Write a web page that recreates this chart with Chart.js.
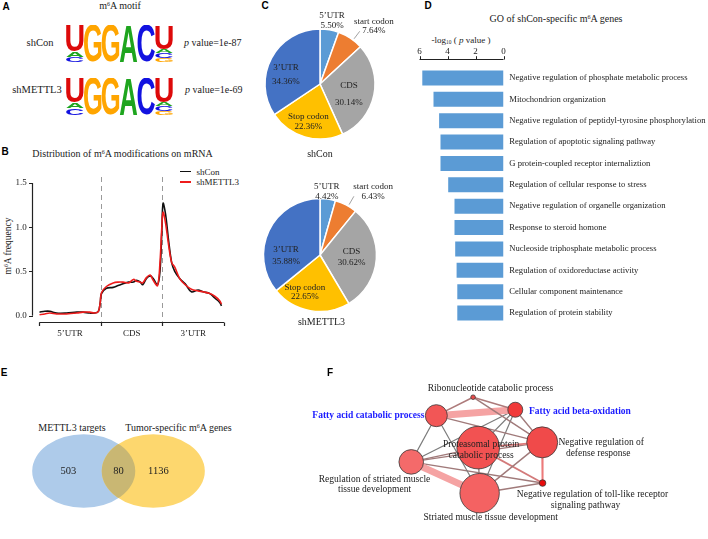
<!DOCTYPE html>
<html>
<head>
<meta charset="utf-8">
<script src="https://cdn.jsdelivr.net/npm/chart.js@4.4.0/dist/chart.umd.min.js"></script>
<style>
html, body { margin: 0; padding: 0; background: #fff; overflow: hidden; }
#fig { position: relative; width: 708px; height: 539px; font-family: "Liberation Serif", "Times New Roman", serif; color: #222; }
#fig canvas { position: absolute; }
.t { position: absolute; white-space: nowrap; transform: translate(-50%, -50%); line-height: 1; }
.l { transform: translate(0, -50%); }
.tag { font-family: "Liberation Sans", Arial, sans-serif; font-weight: bold; font-size: 10px; color: #000; }
sup, sub { font-size: 0.6em; line-height: 0; }
sup { vertical-align: 0.5em; }
sub { vertical-align: -0.2em; }
.key { position: absolute; width: 11px; height: 1.6px; }
</style>
</head>
<body>
<div id="fig">
  <!-- panel A -->
  <div class="t tag" style="left:6px;top:6.5px">A</div>
  <div class="t" style="left:120px;top:6px;font-size:10px">m<sup>6</sup>A motif</div>
  <div class="t" style="left:40px;top:43px;font-size:10.5px">shCon</div>
  <div class="t" style="left:37px;top:90px;font-size:10.5px">shMETTL3</div>
  <div class="t l" style="left:184px;top:43px;font-size:10px"><i>p</i> value=1e-87</div>
  <div class="t l" style="left:185px;top:90px;font-size:10px"><i>p</i> value=1e-69</div>
  <canvas id="logoCon" width="107" height="37" style="left:66px;top:24.5px"></canvas>
  <canvas id="logoKd" width="107" height="37.5" style="left:66px;top:78px"></canvas>

  <!-- panel B -->
  <div class="t tag" style="left:5px;top:152px">B</div>
  <div class="t" style="left:122.5px;top:153.5px;font-size:10px">Distribution of m<sup>6</sup>A modifications on mRNA</div>
  <div class="t" style="left:9px;top:246px;font-size:9.5px;transform:translate(-50%,-50%) rotate(-90deg)">m<sup>6</sup>A frequency</div>
  <div class="key" style="left:180px;top:170.5px;background:#111"></div>
  <div class="t l" style="left:196.5px;top:171.5px;font-size:9px">shCon</div>
  <div class="key" style="left:180px;top:181px;background:#ee1c1c"></div>
  <div class="t l" style="left:196.5px;top:182px;font-size:9px">shMETTL3</div>
  <canvas id="profile" width="240" height="185" style="left:0;top:165px"></canvas>

  <!-- panel C -->
  <div class="t tag" style="left:265px;top:5.5px">C</div>
  <canvas id="pieCon" width="160" height="160" style="left:240px;top:3.5px"></canvas>
  <canvas id="pieKd" width="160" height="160" style="left:240px;top:175px"></canvas>
  <div class="t" style="left:320px;top:153.5px;font-size:10px">shCon</div>
  <div class="t" style="left:321.5px;top:321.5px;font-size:10px">shMETTL3</div>

  <!-- panel D -->
  <div class="t tag" style="left:428px;top:5.5px">D</div>
  <div class="t" style="left:556px;top:18.5px;font-size:10px">GO of shCon-specific m<sup>6</sup>A genes</div>
  <div class="t" style="left:461px;top:39.5px;font-size:9px">-log<sub>10</sub> ( <i>p</i> value )</div>
  <canvas id="goBars" width="298" height="300" style="left:410px;top:40px"></canvas>

  <!-- panel E -->
  <div class="t tag" style="left:4px;top:373px">E</div>
  <div class="t" style="left:72px;top:427.5px;font-size:10px">METTL3 targets</div>
  <div class="t" style="left:178.5px;top:427.5px;font-size:10px">Tumor-specific m<sup>6</sup>A genes</div>
  <canvas id="venn" width="225" height="112" style="left:6px;top:415px"></canvas>

  <!-- panel F -->
  <div class="t tag" style="left:330px;top:373px">F</div>
  <canvas id="network" width="408" height="179" style="left:300px;top:360px"></canvas>
</div>

<script>
// ---- data ----

// A: sequence logo, letters stacked bottom -> top with height in bits
const motifShCon = [
    [['C', 0.28], ['A', 0.30], ['U', 1.38]],
    [['G', 1.96]],
    [['G', 1.96]],
    [['A', 1.96]],
    [['C', 1.96]],
    [['G', 0.22], ['C', 0.27], ['A', 0.22], ['U', 1.25]]
];
const motifShMettl3 = [
    [['C', 0.36], ['A', 0.30], ['U', 1.30]],
    [['G', 1.96]],
    [['G', 1.96]],
    [['A', 1.96]],
    [['C', 1.96]],
    [['G', 0.22], ['C', 0.25], ['A', 0.20], ['U', 1.30]]
];

// B: metagene profile (0-1 5'UTR, 1-2 CDS, 2-3 3'UTR)
const regionLabels = ['5\u2019UTR', 'CDS', '3\u2019UTR'];
const regionBounds = [0, 1, 2, 3];
const freqTicks = [0, 0.5, 1, 1.5];
const profilePos = [0.00, 0.09, 0.17, 0.28, 0.44, 0.61, 0.71, 0.82, 0.90, 0.96, 0.99, 1.01, 1.09, 1.20, 1.28, 1.36,
    1.45, 1.53, 1.58, 1.64, 1.68, 1.74, 1.80, 1.85, 1.92, 1.96, 1.99, 2.01, 2.05, 2.10, 2.15, 2.20, 2.28, 2.37,
    2.47, 2.58, 2.66, 2.77, 2.85, 2.93, 2.96];
const shConProfile = [0.04, 0.05, 0.05, 0.03, 0.03, 0.04, 0.04, 0.03, 0.03, 0.05, 0.15, 0.25, 0.31, 0.32, 0.34, 0.36,
    0.38, 0.38, 0.40, 0.38, 0.35, 0.42, 0.45, 0.42, 0.35, 0.50, 0.95, 1.27, 1.15, 0.85, 0.60, 0.50, 0.42, 0.36,
    0.27, 0.29, 0.27, 0.25, 0.20, 0.15, 0.11];
const shMettl3Profile = [0.01, 0.02, 0.03, 0.02, 0.02, 0.03, 0.04, 0.04, 0.03, 0.05, 0.15, 0.26, 0.33, 0.37, 0.38, 0.38,
    0.37, 0.41, 0.39, 0.38, 0.37, 0.43, 0.46, 0.40, 0.34, 0.60, 1.00, 1.17, 1.05, 0.80, 0.60, 0.55, 0.42, 0.35,
    0.30, 0.28, 0.27, 0.25, 0.22, 0.17, 0.13];

// C: peak distribution (%)
const pieParts = ['5\u2019UTR', 'start codon', 'CDS', 'Stop codon', '3\u2019UTR'];
const shConShare = [5.50, 7.64, 30.14, 22.36, 34.36];
const shMettl3Share = [4.42, 6.43, 30.62, 22.65, 35.88];

// D: GO terms, -log10(p)
const goTerms = [
    'Negative regulation of phosphate metabolic process',
    'Mitochondrion organization',
    'Negative regulation of peptidyl-tyrosine phosphorylation',
    'Regulation of apoptotic signaling pathway',
    'G protein-coupled receptor internaliztion',
    'Regulation of cellular response to stress',
    'Negative regulation of organelle organization',
    'Response to steroid homone',
    'Nucleoside triphosphate metabolic process',
    'Regulation of oxidoreductase activity',
    'Cellular component maintenance',
    'Regulation of protein stability'
];
const goScores = [5.8, 5.0, 4.6, 4.5, 4.5, 3.95, 3.5, 3.5, 3.45, 3.35, 3.3, 3.3];
const goTicks = [6, 4, 2, 0];

// E: overlap counts (left only, both, right only)
const vennCounts = [503, 80, 1136];

// F: enrichment map
const nodeNames = [
    'Ribonucleotide catabolic process',
    'Fatty acid beta-oxidation',
    'Fatty acid catabolic process',
    'Negative regulation of defense response',
    'Proteasomal protein catabolic process',
    'Regulation of striated muscle tissue development',
    'Striated muscle tissue development',
    'Negative regulation of toll-like receptor signaling pathway'
];
const nodeX = [0.415, 0.531, 0.314, 0.605, 0.429, 0.245, 0.433, 0.606];
const nodeY = [0.888, 0.795, 0.751, 0.553, 0.514, 0.408, 0.176, 0.251];
const nodeSize = [2.3, 7.5, 11, 15.5, 21.3, 12.3, 19.7, 3.3];
const edgeFrom = [0, 0, 0, 2, 2, 2, 2, 1, 1, 1, 1, 3, 3, 3, 3, 4, 4, 4, 5, 5, 6];
const edgeTo   = [2, 1, 3, 1, 3, 5, 6, 5, 4, 6, 3, 4, 5, 6, 7, 5, 6, 7, 6, 7, 7];
const edgeSim  = [0.4, 0.4, 0.35, 0.95, 0.35, 0.2, 0.2, 0.2, 0.2, 0.2, 0.35, 0.6, 0.35, 0.35, 0.65, 0.35, 0.3, 0.55, 0.95, 0.35, 0.35];

// ---- styles ----
const serif = '"Liberation Serif", "Times New Roman", serif';
Chart.defaults.font.family = serif;
Chart.defaults.color = '#222';
const letterColors = { A: '#1ea51e', C: '#1212e0', G: '#ffa500', U: '#dd0a0a' };
const pieColors = ['#5b9bd5', '#ed7d31', '#a5a5a5', '#ffc000', '#4472c4'];
const nodeColors = ['#ea4a4a', '#f03a3a', '#f25656', '#f04a4a', '#f25252', '#f46a6a', '#f46262', '#e80c0c'];
const nodeLines = [
    ['Ribonucleotide catabolic process'],
    ['Fatty acid beta-oxidation'],
    ['Fatty acid catabolic process'],
    ['Negative regulation of', 'defense response'],
    ['Proteasomal protein', 'catabolic process'],
    ['Regulation of striated muscle', 'tissue development'],
    ['Striated muscle tissue development'],
    ['Negative regulation of toll-like receptor', 'signaling pathway']
];
// label offset from node centre: [dx (or per line), dy, line gap, align, highlighted]
const nodeLabelPlace = [
    [17.4, -8.3, 0, 'center', false],
    [13.7, 2, 0, 'left', true],
    [-12, 0.2, 0, 'right', true],
    [[59, 56], 0, 10.7, 'center', false],
    [3, -3, 11, 'center', false],
    [-36.7, 17.3, 10.7, 'center', false],
    [11, 24.2, 0, 'center', false],
    [[50, 43], 11.7, 11, 'center', false]
];

const quiet = { legend: { display: false }, tooltip: { enabled: false } };

// ---- A: sequence logos ----
function drawGlyph(ctx, ch, x, y, w, h) {
    ctx.save();
    ctx.font = 'bold 100px "Liberation Sans", Arial, sans-serif';
    ctx.textAlign = 'left';
    ctx.textBaseline = 'alphabetic';
    const m = ctx.measureText(ch);
    const gw = m.actualBoundingBoxLeft + m.actualBoundingBoxRight;
    const gh = m.actualBoundingBoxAscent + m.actualBoundingBoxDescent;
    ctx.translate(x, y);
    ctx.scale(w / gw, h / gh);
    ctx.fillStyle = letterColors[ch];
    ctx.fillText(ch, m.actualBoundingBoxLeft, m.actualBoundingBoxAscent);
    ctx.restore();
}

const logoGlyphs = {
    id: 'logoGlyphs',
    afterDatasetsDraw(chart) {
        chart.data.datasets.forEach((ds, di) => {
            chart.getDatasetMeta(di).data.forEach((bar, i) => {
                const ch = ds.letters[i];
                if (!ch) return;
                const p = bar.getProps(['x', 'y', 'base', 'width'], true);
                const h = p.base - p.y;
                if (h < 0.5) return;
                drawGlyph(chart.ctx, ch, p.x - p.width / 2, p.y, p.width, h);
            });
        });
    }
};

function makeLogo(id, stacks) {
    const depth = Math.max(...stacks.map(s => s.length));
    const datasets = [];
    for (let k = 0; k < depth; k++) {
        datasets.push({
            data: stacks.map(s => s[k] ? s[k][1] : 0),
            letters: stacks.map(s => s[k] ? s[k][0] : ''),
            backgroundColor: 'rgba(0,0,0,0)',
            barPercentage: 1,
            categoryPercentage: 0.98
        });
    }
    new Chart(document.getElementById(id), {
        type: 'bar',
        data: { labels: stacks.map((_, i) => i + 1), datasets },
        options: {
            responsive: false,
            animation: false,
            layout: { padding: 0 },
            plugins: quiet,
            scales: {
                x: { display: false, stacked: true },
                y: { display: false, stacked: true, min: 0, max: 2 }
            }
        },
        plugins: [logoGlyphs]
    });
}
makeLogo('logoCon', motifShCon);
makeLogo('logoKd', motifShMettl3);

// ---- B: metagene profile ----
// base-R style axes, pulled away from the plot area
const profileAxes = {
    id: 'profileAxes',
    beforeDatasetsDraw(chart) {
        const { ctx, chartArea: a, scales: { x } } = chart;
        ctx.save();
        ctx.setLineDash([5, 4]);
        ctx.strokeStyle = '#9a9a9a';
        ctx.lineWidth = 1;
        ctx.beginPath();
        regionBounds.slice(1, -1).forEach(v => {
            const p = Math.round(x.getPixelForValue(v)) + 0.5;
            ctx.moveTo(p, a.top - 6);
            ctx.lineTo(p, a.bottom + 6);
        });
        ctx.stroke();
        ctx.restore();
    },
    afterDraw(chart) {
        const { ctx, chartArea: a, scales: { x, y } } = chart;
        const ax = Math.round(x.left - 7.6) + 0.5;
        const ay = Math.round(a.bottom + 6.3) + 0.5;
        const top = y.getPixelForValue(1.5);
        const bottom = y.getPixelForValue(0);
        ctx.save();
        ctx.strokeStyle = '#222';
        ctx.lineWidth = 1.2;
        // vertical axis
        ctx.beginPath();
        ctx.moveTo(ax, bottom);
        ctx.lineTo(ax, top);
        ctx.stroke();
        ctx.beginPath();
        freqTicks.forEach(v => {
            const p = Math.round(y.getPixelForValue(v)) + 0.5;
            ctx.moveTo(ax + 0.5, p);
            ctx.lineTo(ax - 3.5, p);
        });
        ctx.stroke();
        // horizontal axis
        ctx.beginPath();
        ctx.moveTo(x.getPixelForValue(0), ay);
        ctx.lineTo(x.getPixelForValue(3), ay);
        regionBounds.forEach(v => {
            const p = Math.round(x.getPixelForValue(v)) + 0.5;
            ctx.moveTo(p, ay);
            ctx.lineTo(p, ay + 3.5);
        });
        ctx.stroke();
        ctx.restore();
    }
};

new Chart(document.getElementById('profile'), {
    type: 'line',
    data: {
        datasets: [
            {
                label: 'shMETTL3',
                data: profilePos.map((v, i) => ({ x: v, y: shMettl3Profile[i] })),
                borderColor: '#ee1c1c',
                borderWidth: 1.6,
                pointRadius: 0,
                tension: 0.35
            },
            {
                label: 'shCon',
                data: profilePos.map((v, i) => ({ x: v, y: shConProfile[i] })),
                borderColor: '#111',
                borderWidth: 1.6,
                pointRadius: 0,
                tension: 0.35
            }
        ]
    },
    options: {
        responsive: false,
        animation: false,
        layout: { padding: { left: 0, right: 16, top: 10.3, bottom: 0 } },
        plugins: quiet,
        scales: {
            x: {
                type: 'linear', min: 0, max: 3,
                grid: { display: false, drawTicks: false },
                border: { display: false },
                afterFit: s => { s.height = 34.3; },
                afterBuildTicks: s => { s.ticks = regionLabels.map((_, i) => ({ value: i + 0.5 })); },
                ticks: { padding: 13, font: { size: 9 }, autoSkip: false, maxRotation: 0,
                    callback: (v, i) => regionLabels[i] }
            },
            y: {
                min: 0, max: 1.5,
                grid: { display: false, drawTicks: false },
                border: { display: false },
                afterFit: s => { s.width = 39.3; },
                afterBuildTicks: s => { s.ticks = freqTicks.map(v => ({ value: v })); },
                ticks: { padding: 12.6, font: { size: 9 }, callback: v => v.toFixed(1) }
            }
        }
    },
    plugins: [profileAxes]
});

// ---- C: pies ----
const pieLabels = {
    id: 'pieLabels',
    afterDatasetsDraw(chart, args, opts) {
        const ctx = chart.ctx;
        const shares = chart.data.datasets[0].data;
        const arcs = chart.getDatasetMeta(0).data;
        ctx.save();
        ctx.fillStyle = '#222';
        ctx.font = '9px ' + serif;
        ctx.textAlign = 'center';
        ctx.textBaseline = 'middle';
        let cx0 = 0, cy0 = 0, r0 = 0;
        arcs.forEach((arc, i) => {
            const { x, y, outerRadius: r } = arc.getProps(['x', 'y', 'outerRadius'], true);
            cx0 = x; cy0 = y; r0 = r;
            const [deg, rf, gap] = opts.spots[i];
            const t = (deg - 90) * Math.PI / 180;
            const cx = x + Math.cos(t) * r * rf;
            const cy = y + Math.sin(t) * r * rf;
            ctx.fillText(pieParts[i], cx, cy - gap / 2);
            ctx.fillText(shares[i].toFixed(2) + '%', cx, cy + gap / 2);
        });
        const t = (opts.leader - 90) * Math.PI / 180;
        ctx.strokeStyle = '#8a8a8a';
        ctx.lineWidth = 0.8;
        ctx.beginPath();
        ctx.moveTo(cx0 + Math.cos(t) * r0 * 1.03, cy0 + Math.sin(t) * r0 * 1.03);
        ctx.lineTo(cx0 + Math.cos(t) * r0 * 1.2, cy0 + Math.sin(t) * r0 * 1.2);
        ctx.stroke();
        ctx.restore();
    }
};

function makePie(id, share, radius, spots, leader) {
    new Chart(document.getElementById(id), {
        type: 'pie',
        data: {
            labels: pieParts,
            datasets: [{ data: share, backgroundColor: pieColors, borderColor: '#fff', borderWidth: 1.5, radius }]
        },
        options: {
            responsive: false,
            animation: false,
            layout: { padding: 0 },
            plugins: { legend: { display: false }, tooltip: { enabled: false }, pieLabels: { spots, leader } }
        },
        plugins: [pieLabels]
    });
}
// label spots: [angle from 12 o'clock, radius factor, line gap]
makePie('pieCon', shConShare, 55,
    [[10.8, 1.17, 9.5], [42.9, 1.44, 9.5], [109.9, 0.56, 17], [197.2, 0.72, 9.8], [284.8, 0.64, 14]], 37);
makePie('pieKd', shMettl3Share, 56.5,
    [[6.1, 1.13, 9.5], [39.8, 1.47, 10], [93.6, 0.56, 10.8], [202, 0.71, 9.6], [268.7, 0.6, 11.7]], 30);

// ---- D: GO bars ----
const goAxis = {
    id: 'goAxis',
    afterDraw(chart) {
        const { ctx, chartArea: a, scales: { x } } = chart;
        const ay = Math.round(a.top - 8) + 0.5;
        ctx.save();
        ctx.strokeStyle = '#222';
        ctx.lineWidth = 1;
        ctx.beginPath();
        ctx.moveTo(x.getPixelForValue(6), ay);
        ctx.lineTo(x.getPixelForValue(0), ay);
        goTicks.forEach(v => {
            const p = Math.round(x.getPixelForValue(v)) + 0.5;
            ctx.moveTo(p, ay);
            ctx.lineTo(p, ay - 3.3);
        });
        ctx.stroke();
        ctx.fillStyle = '#222';
        ctx.font = '9px ' + serif;
        ctx.textAlign = 'center';
        ctx.textBaseline = 'middle';
        goTicks.forEach(v => ctx.fillText(String(v), x.getPixelForValue(v), ay - 7.5));
        ctx.restore();
    }
};

new Chart(document.getElementById('goBars'), {
    type: 'bar',
    data: {
        labels: goTerms,
        datasets: [{ data: goScores, backgroundColor: '#5b9bd5', barPercentage: 0.7, categoryPercentage: 1 }]
    },
    options: {
        indexAxis: 'y',
        responsive: false,
        animation: false,
        layout: { padding: { left: 9.5, right: 0, top: 27.3, bottom: 16.3 } },
        plugins: quiet,
        scales: {
            x: { display: false, reverse: true, min: 0, max: 6 },
            y: {
                position: 'right',
                grid: { display: false, drawTicks: false },
                border: { display: false },
                afterFit: s => { s.width = 204.5; },
                ticks: { padding: 5.8, font: { size: 8.6 }, autoSkip: false }
            }
        }
    },
    plugins: [goAxis]
});

// ---- E: Venn ----
const vennShapes = {
    id: 'vennShapes',
    beforeDatasetsDraw(chart, args, opts) {
        const { ctx, scales: { x, y } } = chart;
        const py = y.getPixelForValue(0);
        const shapes = opts.centers.map(c => {
            const px = x.getPixelForValue(c);
            return [px, x.getPixelForValue(c + opts.rx) - px, py - y.getPixelForValue(opts.ry)];
        });
        const trace = ([px, rx, ry]) => { ctx.beginPath(); ctx.ellipse(px, py, rx, ry, 0, 0, Math.PI * 2); };
        ctx.save();
        shapes.forEach((s, i) => { ctx.fillStyle = opts.fills[i]; trace(s); ctx.fill(); });
        // shared region
        ctx.save();
        trace(shapes[0]);
        ctx.clip();
        ctx.fillStyle = opts.both;
        trace(shapes[1]);
        ctx.fill();
        ctx.restore();
        ctx.fillStyle = '#222';
        ctx.font = '10.5px ' + serif;
        ctx.textAlign = 'center';
        ctx.textBaseline = 'middle';
        vennCounts.forEach((n, i) => ctx.fillText(String(n), x.getPixelForValue(opts.countAt[i]), py));
        ctx.restore();
    }
};

new Chart(document.getElementById('venn'), {
    type: 'scatter',
    data: { datasets: [{ data: [{ x: -0.68, y: 0 }, { x: 0.68, y: 0 }], pointRadius: 0 }] },
    options: {
        responsive: false,
        animation: false,
        layout: { padding: 0 },
        plugins: {
            legend: { display: false },
            tooltip: { enabled: false },
            vennShapes: {
                centers: [-0.68, 0.68], rx: 1.008, ry: 0.724,
                fills: ['#aecbea', '#fdd76e'],
                both: '#c9b773',
                countAt: [-0.98, 0, 0.78]
            }
        },
        scales: {
            x: { display: false, min: -2.2, max: 2.2 },
            y: { display: false, min: -1.1, max: 1.1 }
        }
    },
    plugins: [vennShapes]
});

// ---- F: enrichment network ----
function edgeColor(s) {
    if (s >= 0.9) return '#f5a3a3';
    const t = Math.min(1, Math.max(0, (s - 0.2) / 0.45));
    const mix = (a, b) => Math.round(a + (b - a) * t);
    return `rgb(${mix(122, 236)},${mix(122, 122)},${mix(122, 122)})`;
}

const nodeText = {
    id: 'nodeText',
    afterDatasetsDraw(chart) {
        const { ctx, scales: { x, y } } = chart;
        ctx.save();
        ctx.textBaseline = 'middle';
        nodeLines.forEach((lines, i) => {
            const [dx, dy, gap, align, hot] = nodeLabelPlace[i];
            const px = x.getPixelForValue(nodeX[i]);
            const py = y.getPixelForValue(nodeY[i]);
            ctx.font = (hot ? 'bold 9.5px ' : '9.5px ') + serif;
            ctx.fillStyle = hot ? '#1a1aff' : '#222';
            ctx.textAlign = align;
            lines.forEach((line, k) => {
                const ox = Array.isArray(dx) ? dx[k] : dx;
                ctx.fillText(line, px + ox, py + dy + k * gap);
            });
        });
        ctx.restore();
    }
};

const edgeSets = edgeFrom.map((f, i) => ({
    data: [{ x: nodeX[f], y: nodeY[f] }, { x: nodeX[edgeTo[i]], y: nodeY[edgeTo[i]] }],
    showLine: true,
    pointRadius: 0,
    borderColor: edgeColor(edgeSim[i]),
    borderWidth: edgeSim[i] >= 0.9 ? 7 : 0.8 + edgeSim[i] * 1.8
}));

new Chart(document.getElementById('network'), {
    type: 'scatter',
    data: {
        datasets: [
            {
                label: 'terms',
                data: nodeX.map((v, i) => ({ x: v, y: nodeY[i] })),
                pointRadius: nodeSize,
                backgroundColor: nodeColors,
                borderColor: '#3a3a3a',
                borderWidth: 0.8
            },
            ...edgeSets
        ]
    },
    options: {
        responsive: false,
        animation: false,
        layout: { padding: 0 },
        plugins: quiet,
        scales: {
            x: { display: false, min: 0, max: 1 },
            y: { display: false, min: 0, max: 1 }
        }
    },
    plugins: [nodeText]
});
</script>
</body>
</html>
